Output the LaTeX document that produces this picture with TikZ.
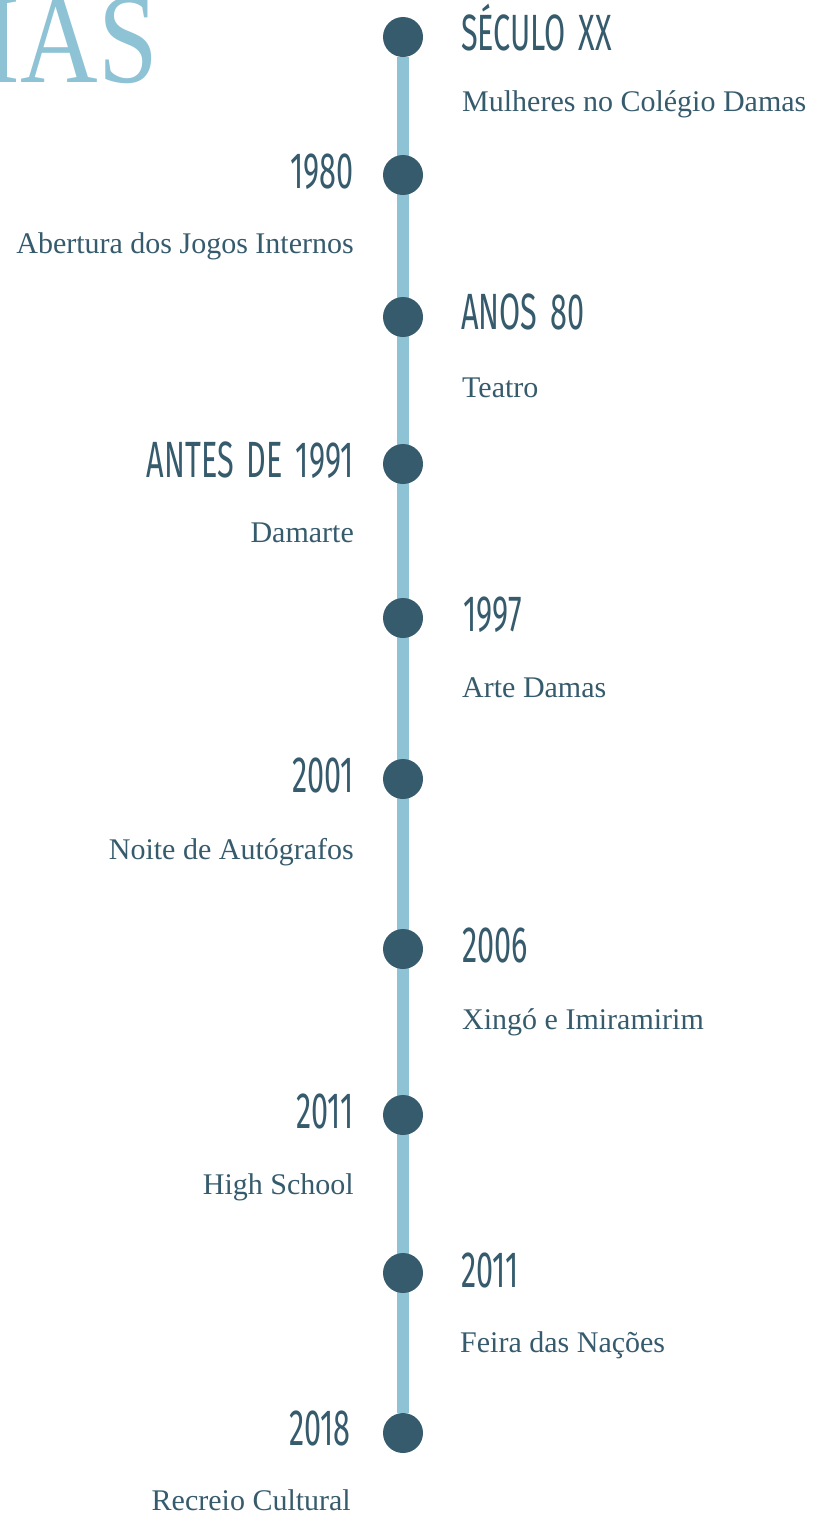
\documentclass[tikz,border=0pt]{standalone}
\usepackage{fontspec}
\setmainfont{Liberation Serif}
\newfontfamily\anofont[FakeStretch=0.6,WordSpace=1.6]{Fira Sans}
\usetikzlibrary{positioning,backgrounds}
\definecolor{escuro}{HTML}{365B6D}
\definecolor{claro}{HTML}{8EC3D6}
\tikzset{
  marco/.style={circle,fill=escuro,minimum size=40pt,inner sep=0pt},
  ano/.style={text=escuro,inner sep=0pt,font=\anofont\fontsize{51}{51}\selectfont},
  fato/.style={text=escuro,inner sep=0pt,font=\fontsize{30}{30}\selectfont}
}

\begin{document}
\begin{tikzpicture}[x=1pt,y=-1pt]
\useasboundingbox (0,0) rectangle (812,1516);
\clip (0,0) rectangle (812,1516);
\node[text=claro,inner sep=0pt,anchor=base east,xscale=0.84,font=\fontsize{128}{128}\selectfont] (titulo) at (158,82) {IAS};

\node[marco] (m1) at (403,37) {};
\node[marco] (m2) at (403,175) {};
\node[marco] (m3) at (403,317) {};
\node[marco] (m4) at (403,464) {};
\node[marco] (m5) at (403,618) {};
\node[marco] (m6) at (403,779) {};
\node[marco] (m7) at (403,949) {};
\node[marco] (m8) at (403,1115) {};
\node[marco] (m9) at (403,1273) {};
\node[marco] (m10) at (403,1433) {};
\begin{scope}[on background layer]
\draw[claro,line width=12pt] (m1) -- (m10);
\end{scope}

\node[ano,anchor=base west] (a1) at (461,50) {SÉCULO XX};
\node[fato,anchor=base west] (f1) at (462,111) {Mulheres no Colégio Damas};
\node[ano,anchor=base east] (a2) at (354,188) {1980};
\node[fato,anchor=base east] (f2) at (354,253) {Abertura dos Jogos Internos};
\node[ano,anchor=base west] (a3) at (461,329) {ANOS 80};
\node[fato,anchor=base west] (f3) at (462,397) {Teatro};
\node[ano,anchor=base east] (a4) at (354,477) {ANTES DE 1991};
\node[fato,anchor=base east] (f4) at (354,542) {Damarte};
\node[ano,anchor=base west] (a5) at (463,631) {1997};
\node[fato,anchor=base west] (f5) at (462,697) {Arte Damas};
\node[ano,anchor=base east] (a6) at (354,792) {2001};
\node[fato,anchor=base east] (f6) at (354,859) {Noite de Autógrafos};
\node[ano,anchor=base west] (a7) at (462,962) {2006};
\node[fato,anchor=base west] (f7) at (462,1029) {Xingó e Imiramirim};
\node[ano,anchor=base east] (a8) at (354,1128) {2011};
\node[fato,anchor=base east] (f8) at (354,1194) {High School};
\node[ano,anchor=base west] (a9) at (461,1287) {2011};
\node[fato,anchor=base west] (f9) at (460,1352) {Feira das Nações};
\node[ano,anchor=base east] (a10) at (351,1445) {2018};
\node[fato,anchor=base east] (f10) at (351,1510) {Recreio Cultural};
\end{tikzpicture}
\end{document}
